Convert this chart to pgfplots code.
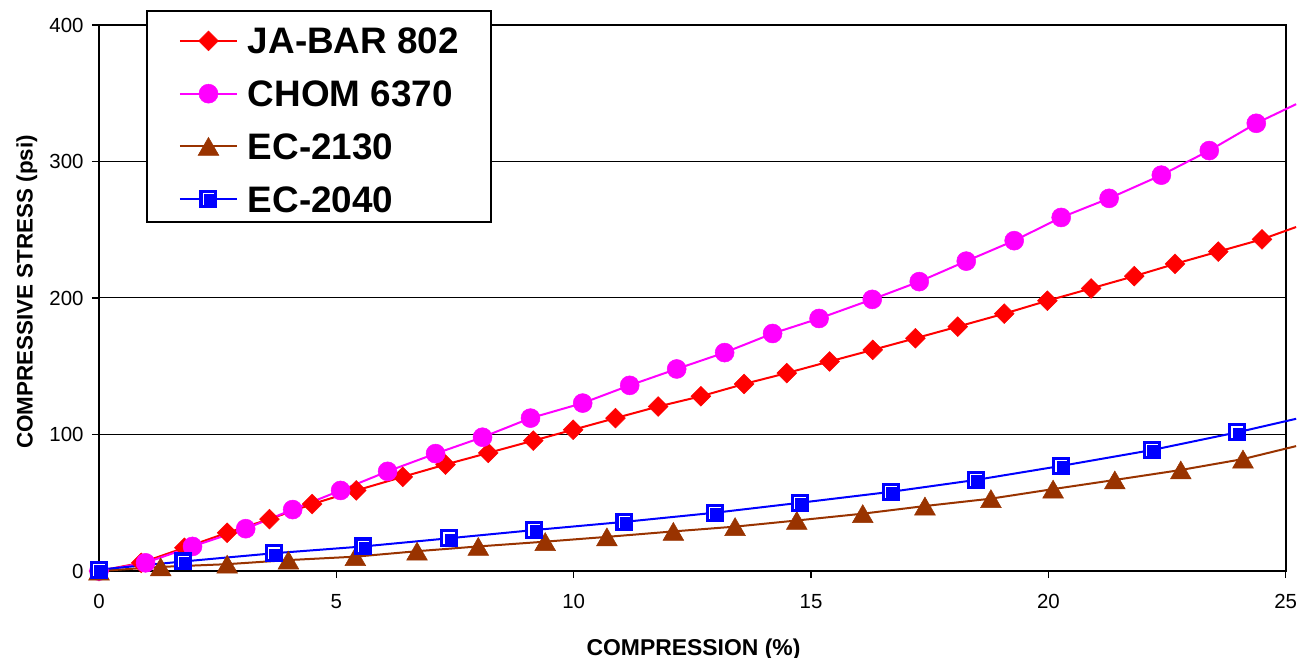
\documentclass[border=0pt]{standalone}
\usepackage{fontspec}
\setmainfont{Liberation Sans}
\usepackage{pgfplots}
\pgfplotsset{compat=1.18}

\definecolor{xlred}{RGB}{255,0,0}
\definecolor{xlmagenta}{RGB}{255,0,255}
\definecolor{xlbrown}{RGB}{153,51,0}
\definecolor{xlblue}{RGB}{0,0,255}

% Excel-like square marker with a white inner corner
\pgfdeclareplotmark{xlsquare}{%
  \pgfpathrectangle{\pgfqpoint{-\pgfplotmarksize}{-\pgfplotmarksize}}{\pgfqpoint{2\pgfplotmarksize}{2\pgfplotmarksize}}%
  \pgfusepathqfillstroke
  \pgfscope
  \pgfsetstrokecolor{white}%
  \pgfsetlinewidth{1.2bp}%
  \pgfpathmoveto{\pgfqpoint{-0.62\pgfplotmarksize}{-0.7\pgfplotmarksize}}%
  \pgfpathlineto{\pgfqpoint{-0.62\pgfplotmarksize}{0.62\pgfplotmarksize}}%
  \pgfpathlineto{\pgfqpoint{0.7\pgfplotmarksize}{0.62\pgfplotmarksize}}%
  \pgfusepathqstroke
  \endpgfscope
}

\begin{document}
\begin{tikzpicture}
\path[use as bounding box] (-99bp,-87bp) rectangle (1208bp,571bp);
\begin{axis}[
  at={(0,0)}, anchor=south west,
  scale only axis, width=1186.7bp, height=546bp,
  xmin=0, xmax=25, ymin=0, ymax=400,
  xtick={0,5,...,25}, ytick={0,100,...,400},
  axis line style={line width=2bp},
  tick style={line width=1.5bp, black},
  major tick length=7bp, tick align=outside, tick pos=left,
  ymajorgrids, grid style={line width=1bp, black},
  ticklabel style={font=\fontsize{20.5}{21}\selectfont},
  xticklabel style={yshift=-13bp},
  yticklabel style={xshift=-5bp},
  /pgf/number format/assume math mode=true,
  xlabel={COMPRESSION (\%)},
  ylabel={COMPRESSIVE STRESS (psi)},
  label style={font=\bfseries\fontsize{23}{23}\selectfont},
  xlabel style={at={(axis description cs:0.501,0)}, anchor=base, yshift=-84bp},
  ylabel style={at={(axis description cs:-0.056,0.511)}, anchor=base, font=\bfseries\fontsize{22.5}{23}\selectfont},
  clip=false,
  legend style={at={(0.0396,1.0275)}, anchor=north west, draw=black, line width=2bp,
    fill=white, inner xsep=32bp, inner ysep=10bp, row sep=19.7bp, column sep=10bp,
    font=\bfseries\fontsize{37}{37}\selectfont,
    nodes={inner sep=0pt, text height=33bp, text depth=0pt},
    cells={anchor=base west}},
  legend image code/.code={\draw[#1,mark indices={2},line width=2bp] plot coordinates {(0bp,13bp) (28.5bp,13bp) (57bp,13bp)};},
]
\addplot[color=xlred, line width=2bp, mark=square*, mark size=7bp, mark indices={1,...,28},
  mark options={solid, rotate=45, line width=0.5bp, fill=xlred}] coordinates {
  (0,0) (0.89,6) (1.80,17) (2.70,28) (3.59,38) (4.49,49) (5.42,59) (6.40,69)
  (7.30,78) (8.20,86.5) (9.15,95.5) (9.99,103.5) (10.88,112) (11.78,120.5)
  (12.68,128) (13.59,137) (14.49,145) (15.39,153.5) (16.30,162) (17.20,170.5)
  (18.09,179) (19.07,188.5) (19.98,198) (20.90,207) (21.81,216) (22.67,225)
  (23.58,234) (24.50,243) (25.22,252)};
\addlegendentry{JA-BAR 802}
\addplot[color=xlmagenta, line width=2bp, mark=*, mark size=9.5bp, mark indices={1,...,25},
  mark options={solid, line width=0.5bp, fill=xlmagenta}] coordinates {
  (0,0) (0.98,6) (1.97,18) (3.09,31) (4.08,45) (5.09,59) (6.08,73) (7.09,86)
  (8.08,98) (9.09,112) (10.19,123) (11.18,136) (12.17,148) (13.18,160)
  (14.19,174) (15.17,185) (16.29,199) (17.28,212) (18.27,227) (19.28,242)
  (20.27,259) (21.28,273) (22.38,290) (23.39,308) (24.38,328) (25.22,342)};
\addlegendentry{CHOM 6370}
\addplot[color=xlbrown, line width=2bp, mark=triangle*, mark size=12bp, mark indices={1,...,19},
  mark options={solid, yshift=-3bp, line width=0.5bp, fill=xlbrown}] coordinates {
  (0,0) (1.30,3) (2.70,5) (3.99,8) (5.40,10.5) (6.70,14.5) (7.99,18) (9.40,21.5)
  (10.70,25) (12.10,29) (13.40,32.5) (14.70,37) (16.09,42) (17.40,47.6)
  (18.79,53) (20.10,60) (21.40,66.7) (22.79,74) (24.10,82) (25.22,91.5)};
\addlegendentry{EC-2130}
\addplot[color=xlblue, line width=2bp, mark=xlsquare, mark size=8.5bp, mark indices={1,...,14},
  mark options={solid, line width=1bp, fill=xlblue, draw=xlblue}] coordinates {
  (0,1) (1.78,7) (3.68,13) (5.57,18) (7.38,24) (9.17,30) (11.07,36) (12.98,42.7)
  (14.77,50) (16.68,58) (18.47,66.7) (20.27,77) (22.18,88.6) (23.98,101.6)
  (25.22,111.5)};
\addlegendentry{EC-2040}
\end{axis}
\end{tikzpicture}
\end{document}
